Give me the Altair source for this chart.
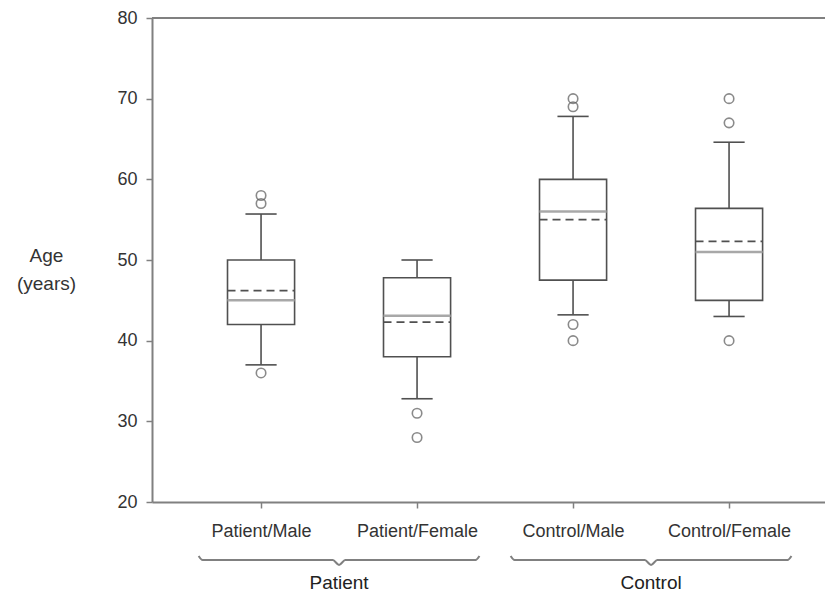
import json
import altair as alt
import pandas as pd

# ---------------- data ----------------
groups = ["Patient/Male", "Patient/Female", "Control/Male", "Control/Female"]
q1 = [42.0, 38.0, 47.5, 45.0]
q3 = [50.0, 47.8, 60.0, 56.4]
median = [45.0, 43.1, 56.0, 51.0]
mean = [46.2, 42.3, 55.0, 52.3]
whisker_low = [37.0, 32.8, 43.2, 43.0]
whisker_high = [55.7, 50.0, 67.8, 64.6]

outlier_group = ["Patient/Male", "Patient/Male", "Patient/Male",
                 "Patient/Female", "Patient/Female",
                 "Control/Male", "Control/Male", "Control/Male", "Control/Male",
                 "Control/Female", "Control/Female", "Control/Female"]
outlier_age = [58.0, 57.0, 36.0, 31.0, 28.0, 70.0, 69.0, 42.0, 40.0, 70.0, 67.0, 40.0]

super_groups = ["Patient", "Control"]
super_members = [["Patient/Male", "Patient/Female"], ["Control/Male", "Control/Female"]]

y_ticks = [20, 30, 40, 50, 60, 70, 80]

# ---------------- tables ----------------
stats = pd.DataFrame({
    "group": groups,
    "idx": list(range(len(groups))),
    "q1": q1, "q3": q3, "median": median, "mean": mean,
    "wlo": whisker_low, "whi": whisker_high,
})
outl = pd.DataFrame({"group": outlier_group, "age": outlier_age})
outl["idx"] = outl["group"].map({g: i for i, g in enumerate(groups)})

sg_rows = []
for name, members in zip(super_groups, super_members):
    c = sum(groups.index(m) for m in members) / len(members)
    sg_rows.append({"name": name, "center": c})
sg = pd.DataFrame(sg_rows)

# brace decoration (shape offsets around each group centre, y in axis units)
BRACE_DX = [-0.9, -0.875, -0.04, 0.0, 0.04, 0.875, 0.9]
BRACE_Y = [13.3, 12.8, 12.8, 12.2, 12.8, 12.8, 13.3]
LABEL_Y = 9.25
brace_rows = []
for _, r in sg.iterrows():
    for k, (dx, yy) in enumerate(zip(BRACE_DX, BRACE_Y)):
        brace_rows.append({"name": r["name"], "bx": r["center"] + dx, "by": yy, "k": k})
braces = pd.DataFrame(brace_rows)
top_line = pd.DataFrame({"v": [max(y_ticks)]})

# ---------------- scales / axes ----------------
FONT = "Liberation Sans"
XS = alt.Scale(domain=[-0.699, 3.615], nice=False, zero=False)
YS = alt.Scale(domain=[min(y_ticks), max(y_ticks)], nice=False, zero=False)
X_AXIS = alt.Axis(values=list(range(len(groups))),
                  labelExpr=f"{json.dumps(groups)}[datum.value]",
                  grid=False, tickSize=6, labelPadding=14, labelFontSize=18,
                  labelColor="#333333", domainColor="#808080", domainWidth=2,
                  tickColor="#808080", tickWidth=1.5)
Y_AXIS = alt.Axis(values=y_ticks, grid=False, tickSize=6, labelPadding=9,
                  labelFontSize=18, labelColor="#333333",
                  domainColor="#808080", domainWidth=2,
                  tickColor="#808080", tickWidth=1.5,
                  title=["Age", "(years)"], titleAngle=0, titleAlign="center",
                  titleBaseline="middle", titleX=-106, titleY=237,
                  titleFontSize=19, titleFontWeight="normal",
                  titleColor="#333333", titleLineHeight=28)

HALF_BOX = 0.215
HALF_CAP = 0.1

base = alt.Chart(stats).transform_calculate(
    xl=f"datum.idx - {HALF_BOX}", xr=f"datum.idx + {HALF_BOX}",
    cl=f"datum.idx - {HALF_CAP}", cr=f"datum.idx + {HALF_CAP}",
)

LINE = "#505050"

whisk_hi = base.mark_rule(color=LINE, strokeWidth=1.6).encode(
    x=alt.X("idx:Q", scale=XS, axis=X_AXIS, title=None),
    y=alt.Y("q3:Q", scale=YS, axis=Y_AXIS), y2="whi:Q")
whisk_lo = base.mark_rule(color=LINE, strokeWidth=1.6).encode(
    x=alt.X("idx:Q", scale=XS, axis=X_AXIS, title=None),
    y=alt.Y("wlo:Q", scale=YS, axis=Y_AXIS), y2="q1:Q")
cap_hi = base.mark_rule(color=LINE, strokeWidth=1.6).encode(
    x=alt.X("cl:Q", scale=XS, axis=X_AXIS, title=None), x2="cr:Q",
    y=alt.Y("whi:Q", scale=YS, axis=Y_AXIS))
cap_lo = base.mark_rule(color=LINE, strokeWidth=1.6).encode(
    x=alt.X("cl:Q", scale=XS, axis=X_AXIS, title=None), x2="cr:Q",
    y=alt.Y("wlo:Q", scale=YS, axis=Y_AXIS))
box = base.mark_rect(fill="white", stroke=LINE, strokeWidth=1.6).encode(
    x=alt.X("xl:Q", scale=XS, axis=X_AXIS, title=None), x2="xr:Q",
    y=alt.Y("q1:Q", scale=YS, axis=Y_AXIS), y2="q3:Q")
med = base.mark_rule(color="#a8a8a8", strokeWidth=2.5).encode(
    x=alt.X("xl:Q", scale=XS, axis=X_AXIS, title=None), x2="xr:Q",
    y=alt.Y("median:Q", scale=YS, axis=Y_AXIS))
mn = base.mark_rule(color=LINE, strokeWidth=1.8, strokeDash=[8, 5]).encode(
    x=alt.X("xl:Q", scale=XS, axis=X_AXIS, title=None), x2="xr:Q",
    y=alt.Y("mean:Q", scale=YS, axis=Y_AXIS))
pts = alt.Chart(outl).mark_point(shape="circle", filled=False, color="#595959",
                                 size=90, strokeWidth=1.6).encode(
    x=alt.X("idx:Q", scale=XS, axis=X_AXIS, title=None),
    y=alt.Y("age:Q", scale=YS, axis=Y_AXIS))
top = alt.Chart(top_line).mark_rule(color="#808080", strokeWidth=2).encode(
    y=alt.Y("v:Q", scale=YS, axis=Y_AXIS))
brace = alt.Chart(braces).mark_line(color="#808080", strokeWidth=2, clip=False,
                                    interpolate="monotone").encode(
    x=alt.X("bx:Q", scale=XS, axis=X_AXIS, title=None),
    y=alt.Y("by:Q", scale=YS, axis=Y_AXIS),
    detail="name:N", order="k:Q")
sg_text = alt.Chart(sg).mark_text(fontSize=19, color="#222222", baseline="alphabetic",
                                  clip=False).encode(
    x=alt.X("center:Q", scale=XS, axis=X_AXIS, title=None),
    y=alt.Y("ty:Q", scale=YS, axis=Y_AXIS),
    text="name:N").transform_calculate(ty=f"{LABEL_Y}")

chart = alt.layer(top, whisk_hi, whisk_lo, cap_hi, cap_lo, box, med, mn, pts,
                  brace, sg_text).properties(
    width=673, height=484,
    autosize=alt.AutoSizeParams(type="none"),
    padding={"left": 144, "top": 10, "right": 0, "bottom": 92},
).configure(font=FONT).configure_view(strokeWidth=0)

chart.save("out.html", embed_options={"renderer": "svg", "actions": False})
